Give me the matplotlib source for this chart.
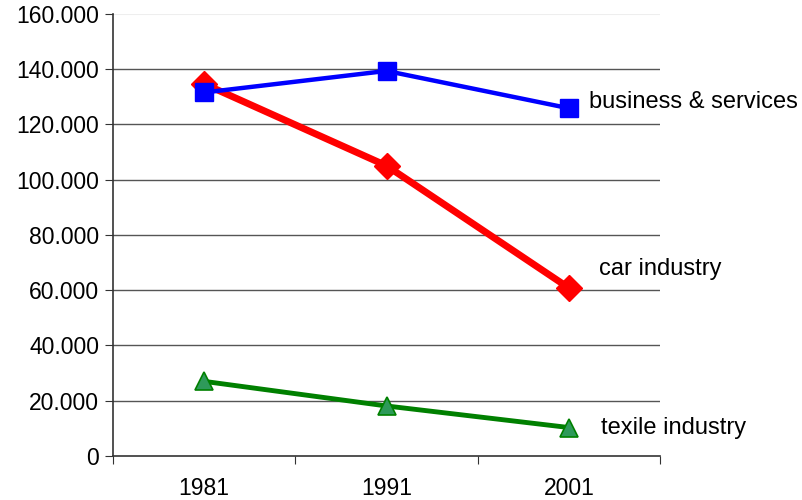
import matplotlib
matplotlib.use("Agg")
import matplotlib.pyplot as plt
from matplotlib.ticker import FuncFormatter

plt.rcParams['font.family'] = ['Liberation Sans', 'DejaVu Sans']

years = ["1981", "1991", "2001"]
business = [131500, 139300, 125800]
car = [134600, 105000, 60800]
textile = [27000, 18100, 10300]
series_labels = ["business & services", "car industry", "texile industry"]
yticks = [0, 20000, 40000, 60000, 80000, 100000, 120000, 140000, 160000]

fig = plt.figure(figsize=(8.02, 5.0), dpi=100)
ax = fig.add_axes([113/802, 44/500, (660-113)/802, (456-13.7)/500])

x = [0.5, 1.5, 2.5]
ax.set_xlim(0, 3)
ax.set_ylim(0, 160000)

for yv in yticks[1:-1]:
    ax.axhline(yv, color='#555555', lw=1.0, zorder=1)
ax.axhline(160000, color='#eeeeee', lw=0.8, zorder=1)

ax.plot(x, business, color='#0000ff', lw=3.2, marker='s', markersize=13,
        markerfacecolor='#0000ff', markeredgecolor='#0000ff', zorder=4, clip_on=False)
ax.plot(x, car, color='#ff0000', lw=5.0, marker='D', markersize=13,
        markerfacecolor='#ff0000', markeredgecolor='#ff0000', zorder=3, clip_on=False)
ax.plot(x, textile, color='#008000', lw=3.5, marker='^', markersize=13,
        markerfacecolor='#2e9a5a', markeredgecolor='#008000', markeredgewidth=1.2,
        zorder=3, clip_on=False)

label_vals = [business[-1], car[-1], textile[-1]]
label_offsets = [(2.61, 2300), (2.665, 6800), (2.675, 0)]
for lab, val, (lx, dy) in zip(series_labels, label_vals, label_offsets):
    ax.text(lx, val + dy, lab, fontsize=17, va='center', ha='left', color='#000000')

ax.set_yticks(yticks)
ax.yaxis.set_major_formatter(FuncFormatter(lambda v, p: "0" if v == 0 else f"{int(v):,}".replace(",", ".")))
ax.set_xticks([0, 1, 2, 3])
ax.set_xticklabels([])
ax.set_xticks(x, minor=True)
ax.set_xticklabels(years, minor=True)
ax.tick_params(axis='x', which='minor', length=0, labelsize=16.5, pad=15)
ax.tick_params(axis='x', which='major', length=6, direction='out', color='#333333')
ax.tick_params(axis='y', length=6, direction='out', labelsize=16.5, color='#333333', pad=4)

for s in ['top', 'right']:
    ax.spines[s].set_visible(False)
ax.spines['left'].set_color('#333333')
ax.spines['bottom'].set_color('#333333')
ax.spines['left'].set_linewidth(1.2)
ax.spines['bottom'].set_linewidth(1.2)

fig.savefig("out.png", dpi=100)
